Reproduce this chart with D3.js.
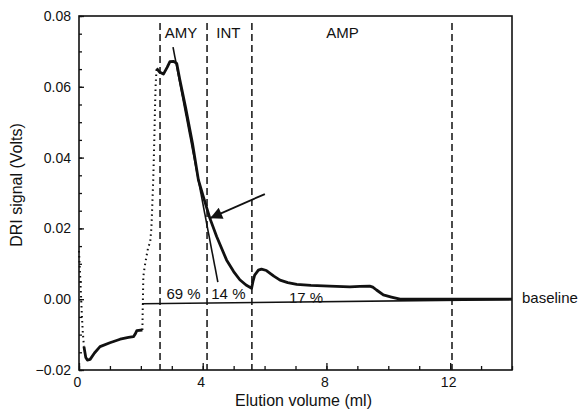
<!DOCTYPE html>
<html>
<head>
<meta charset="utf-8">
<script src="https://cdn.jsdelivr.net/npm/d3@7"></script>
<style>
  body { margin: 0; background: #fff; }
  svg text { font-family: "Liberation Sans", Arial, sans-serif; fill: #111; }
</style>
</head>
<body>
<div id="chart"></div>
<script>
// elution profile (ml, volts)
const dropVol = [0.0, 0.03, 0.06, 0.09, 0.12, 0.16];
const dropSig = [0.0136, 0.008, 0.002, -0.004, -0.009, -0.0134];

const lowVol = [0.16, 0.22, 0.27, 0.36, 0.5, 0.68, 1.0, 1.33, 1.6, 1.76, 1.82, 1.87, 2.05];
const lowSig = [-0.0134, -0.0165, -0.0172, -0.017, -0.0152, -0.0134, -0.0123, -0.0113, -0.0108, -0.0106, -0.0098, -0.0089, -0.0087];

const riseVol = [2.05, 2.06, 2.08, 2.12, 2.18, 2.24, 2.3, 2.34, 2.36, 2.38, 2.4, 2.42, 2.44, 2.46, 2.48, 2.51];
const riseSig = [-0.0087, -0.003, 0.0064, 0.009, 0.012, 0.0148, 0.016, 0.02, 0.0243, 0.029, 0.0336, 0.04, 0.047, 0.055, 0.061, 0.0652];

const mainVol = [2.51, 2.6, 2.73, 2.85, 2.94, 3.05, 3.16, 3.26, 3.45, 3.67, 3.86, 4.02, 4.23, 4.45, 4.77, 5.0, 5.2, 5.4, 5.58,
  5.63, 5.68, 5.8, 5.9, 6.06, 6.3, 6.5, 6.75, 7.04, 7.5, 8.1, 8.76, 9.08, 9.4, 9.5, 9.62, 9.84, 10.1, 10.38, 11, 12, 13, 14];
const mainSig = [0.0652, 0.0642, 0.0636, 0.0655, 0.0671, 0.0672, 0.0666, 0.062, 0.054, 0.044, 0.0337, 0.029, 0.0229, 0.0177, 0.0111, 0.0078, 0.0055, 0.004, 0.0031,
  0.0052, 0.0068, 0.0082, 0.0085, 0.0081, 0.0065, 0.0054, 0.0047, 0.0042, 0.0039, 0.0037, 0.0035, 0.0036, 0.0037, 0.0034, 0.0026, 0.0012, 0.0006, 0.0, 0.0, 0.0, 0.0, 0.0];

// region boundaries (dashed) and labels
const cutVol = [2.62, 4.14, 5.59, 12.06];
const regionNames = ["AMY", "INT", "AMP"];
const regionVol = [3.3, 4.83, 8.52];
const shareText = ["69 %", "14 %", "17 %"];
const shareVol = [3.38, 4.83, 7.34];

// baseline, tangent and arrow
const baseVol = [2.04, 14];
const baseSig = [-0.0013, -0.0001];
const tangentVol = [3.04, 4.49];
const tangentSig = [0.0712, 0.0048];
const arrowVol = [6.01, 4.24];
const arrowSig = [0.0297, 0.0229];

const xTicks = [0, 4, 8, 12];
const yTicks = [-0.02, 0.00, 0.02, 0.04, 0.06, 0.08];

const width = 581, height = 410;
const margin = { top: 16, right: 69, bottom: 40, left: 79 };

const svg = d3.select("#chart").append("svg")
    .attr("width", width)
    .attr("height", height);

const x = d3.scaleLinear().domain([0, 14]).range([margin.left, width - margin.right]);
const y = d3.scaleLinear().domain([-0.02, 0.08]).range([height - margin.bottom, margin.top]);

const toPts = (xs, ys) => xs.map((v, i) => [v, ys[i]]);
const line = d3.line().x(d => x(d[0])).y(d => y(d[1]));

// frame
svg.append("rect")
    .attr("x", x(0)).attr("y", y(0.08))
    .attr("width", x(14) - x(0)).attr("height", y(-0.02) - y(0.08))
    .attr("fill", "none").attr("stroke", "#111").attr("stroke-width", 1.6);

// axes: minor ticks, then labelled ticks
svg.append("g")
    .attr("transform", `translate(0,${y(-0.02)})`)
    .call(d3.axisBottom(x).tickValues(d3.range(0, 15, 1)).tickSize(-4).tickFormat(""))
    .call(g => g.select(".domain").remove());
svg.append("g")
    .attr("transform", `translate(0,${y(-0.02)})`)
    .call(d3.axisBottom(x).tickValues(xTicks).tickSize(-7).tickPadding(7).tickFormat(d3.format("d")))
    .call(g => g.select(".domain").remove())
    .call(g => g.selectAll("text").attr("font-size", 14).attr("dx", -2).attr("font-family", null));

svg.append("g")
    .attr("transform", `translate(${x(0)},0)`)
    .call(d3.axisLeft(y).tickValues(d3.range(-0.02, 0.0801, 0.005)).tickSize(-3).tickFormat(""))
    .call(g => g.select(".domain").remove());
svg.append("g")
    .attr("transform", `translate(${x(0)},0)`)
    .call(d3.axisLeft(y).tickValues(yTicks).tickSize(-5).tickPadding(8).tickFormat(d3.format(".2f")))
    .call(g => g.select(".domain").remove())
    .call(g => g.selectAll("text").attr("font-size", 14).attr("font-family", null));

svg.selectAll(".tick line").attr("stroke", "#111").attr("stroke-width", 1.3);

// axis titles
svg.append("text")
    .attr("x", (x(0) + x(14)) / 2 + 8).attr("y", 406)
    .attr("text-anchor", "middle").attr("font-size", 16)
    .text("Elution volume (ml)");
svg.append("text")
    .attr("transform", `translate(22,${(y(-0.02) + y(0.08)) / 2 - 8}) rotate(-90)`)
    .attr("text-anchor", "middle").attr("font-size", 16)
    .text("DRI signal (Volts)");

// dashed region boundaries
svg.selectAll(".cut")
    .data(cutVol)
    .enter().append("line")
    .attr("class", "cut")
    .attr("x1", d => x(d)).attr("x2", d => x(d))
    .attr("y1", y(0.078)).attr("y2", y(-0.02))
    .attr("stroke", "#111").attr("stroke-width", 1.5)
    .attr("stroke-dasharray", "7,4");

svg.selectAll(".region")
    .data(regionNames)
    .enter().append("text")
    .attr("x", (d, i) => x(regionVol[i]))
    .attr("y", 38)
    .attr("text-anchor", "middle").attr("font-size", 15)
    .text(d => d);

// the last share label sits half under the baseline
svg.append("defs").append("clipPath")
    .attr("id", "above-base")
    .append("rect")
    .attr("x", 0).attr("y", 0)
    .attr("width", width).attr("height", y(baseSig[0]) - 1);

svg.selectAll(".share")
    .data(shareText)
    .enter().append("text")
    .attr("x", (d, i) => x(shareVol[i]))
    .attr("y", (d, i) => i === 2 ? 303 : 299)
    .attr("clip-path", (d, i) => i === 2 ? "url(#above-base)" : null)
    .attr("text-anchor", "middle").attr("font-size", 15)
    .text(d => d);

// baseline
svg.append("path")
    .attr("d", line(toPts(baseVol, baseSig)))
    .attr("fill", "none").attr("stroke", "#111").attr("stroke-width", 1.6);
svg.append("text")
    .attr("x", 522).attr("y", 303)
    .attr("font-size", 15)
    .text("baseline");

// signal: dotted where it changes fast, heavy where it is slow
svg.append("path")
    .attr("d", line(toPts(dropVol, dropSig)))
    .attr("fill", "none").attr("stroke", "#111").attr("stroke-width", 2)
    .attr("stroke-dasharray", "1.5,3.5");
svg.append("path")
    .attr("d", line(toPts(lowVol, lowSig)))
    .attr("fill", "none").attr("stroke", "#111").attr("stroke-width", 2.8)
    .attr("stroke-linejoin", "round");
svg.append("path")
    .attr("d", line(toPts(riseVol, riseSig)))
    .attr("fill", "none").attr("stroke", "#111").attr("stroke-width", 2)
    .attr("stroke-dasharray", "1.5,3.5");
svg.append("path")
    .attr("d", line(toPts(mainVol, mainSig)))
    .attr("fill", "none").attr("stroke", "#111").attr("stroke-width", 2.8)
    .attr("stroke-linejoin", "round");

// tangent
svg.append("path")
    .attr("d", line(toPts(tangentVol, tangentSig)))
    .attr("fill", "none").attr("stroke", "#111").attr("stroke-width", 1.6);

// arrow
svg.select("defs").append("marker")
    .attr("id", "head")
    .attr("viewBox", "0 0 10 10")
    .attr("refX", 10).attr("refY", 5)
    .attr("markerWidth", 18).attr("markerHeight", 12)
    .attr("markerUnits", "userSpaceOnUse")
    .attr("orient", "auto")
    .append("path").attr("d", "M0,0L10,5L0,10z").attr("fill", "#111");
svg.append("path")
    .attr("d", line(toPts(arrowVol, arrowSig)))
    .attr("fill", "none").attr("stroke", "#111").attr("stroke-width", 1.8)
    .attr("marker-end", "url(#head)");
</script>
</body>
</html>
